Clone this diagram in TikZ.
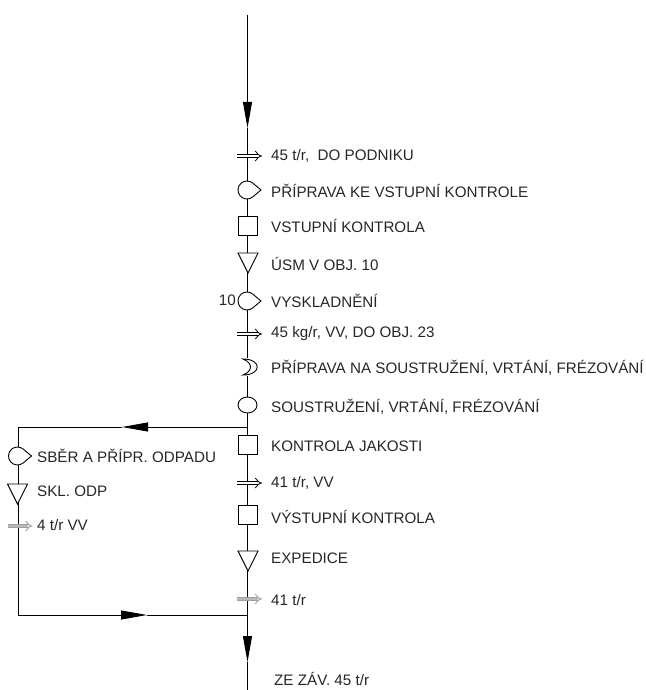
\documentclass[tikz,border=0pt]{standalone}
\usepackage{fontspec}
\setmainfont{Liberation Sans}
\usetikzlibrary{arrows.meta,calc}
\tikzset{
  ln/.style={line width=0.9pt, black},
  bigarrow/.style={ln, -{Triangle[length=26pt,width=9pt]}},
  lbl/.style={anchor=west, inner sep=0pt, font=\fontsize{15.2}{18}\selectfont, text=black!85},
  sym/.style={ln, fill=white},
  transp/.style={line width=0.8pt, double distance=2.8pt, -{Implies}},
  transpgrey/.style={line width=0.9pt, draw=gray!75, double=gray!55, double distance=2.8pt, -{Implies}},
  pics/teardrop/.style={code={
    \draw[sym] (14,0) -- (50:9) arc[start angle=50, end angle=310, radius=9] -- cycle;}},
  pics/crescent/.style={code={
    \fill[white] (-3,-9) rectangle (3,9);
    \draw[sym] (-5,-8) .. controls (14,-8) and (14,8) .. (-5,8)
      .. controls (5,4) and (5,-4) .. (-5,-8) -- cycle;}},
  pics/tri/.style={code={
    \draw[sym] (-10,-10) -- (10,-10) -- (0,10) -- cycle;}},
  pics/sq/.style={code={
    \draw[sym] (-9.5,-9.5) rectangle (9.5,9.5);}},
  pics/circ/.style={code={
    \draw[sym] (0,0) ellipse[x radius=9.5, y radius=8];}},
  pics/tr/.style={code={
    \draw[transp] (-10.5,0) -- (14.5,0);}},
  pics/trg/.style={code={
    \draw[transpgrey] (-10.5,0) -- (14.5,0);}},
}
\begin{document}
\begin{tikzpicture}[x=1pt,y=-1pt]
\useasboundingbox (0,0) rectangle (645,690);
% main coordinates
\coordinate (start) at (247.5,15);
\coordinate (tipA) at (247.5,128);
\coordinate (branch) at (247.5,427);
\coordinate (join) at (247.5,615);
\coordinate (tipB) at (247.5,662);
\coordinate (end) at (247.5,690);
\coordinate (lc1) at (18,427);
\coordinate (lc2) at (18,615);
\coordinate (tipL) at (122,427);
\coordinate (tipR) at (147,615);
% connectors
\draw[bigarrow] (start) -- (tipA);
\draw[ln] (tipA) -- (branch) -- (join);
\draw[bigarrow] (join) -- (tipB);
\draw[ln] (tipB) -- (end);
\draw[bigarrow] (branch) -- (tipL);
\draw[ln] (tipL) -- (lc1) -- (lc2);
\draw[bigarrow] (lc2) -- (tipR);
\draw[ln] (tipR) -- (join);
% symbols on main line
\pic at (247.5,156) {tr};
\pic at (247,190) {teardrop};
\pic at (247.5,226) {sq};
\pic at (248,263) {tri};
\pic at (247,301) {teardrop};
\pic at (247.5,334) {tr};
\pic at (248,367) {crescent};
\pic at (247.5,405) {circ};
\pic at (248,445) {sq};
\pic at (247.5,483) {tr};
\pic at (248,515) {sq};
\pic at (248,561) {tri};
\pic at (247.5,599) {trg};
% symbols on left branch
\pic at (17.5,456) {teardrop};
\pic at (17.5,494) {tri};
\pic at (18,526) {trg};
% labels
\node[lbl] (l1) at (271,156) {45 t/r,\ \ DO PODNIKU};
\node[lbl] (l2) at (271,191) {PŘÍPRAVA KE VSTUPNÍ KONTROLE};
\node[lbl] (l3) at (271,226) {VSTUPNÍ KONTROLA};
\node[lbl] (l4) at (271,264) {ÚSM V OBJ. 10};
\node[lbl, anchor=east] (l5a) at (236,300) {10};
\node[lbl] (l5) at (271,301) {VYSKLADNĚNÍ};
\node[lbl] (l6) at (271,334) {45 kg/r, VV, DO OBJ. 23};
\node[lbl] (l7) at (271,368) {PŘÍPRAVA NA SOUSTRUŽENÍ, VRTÁNÍ, FRÉZOVÁNÍ};
\node[lbl] (l8) at (271,407) {SOUSTRUŽENÍ, VRTÁNÍ, FRÉZOVÁNÍ};
\node[lbl] (l9) at (271,446) {KONTROLA JAKOSTI};
\node[lbl] (l10) at (271,483) {41 t/r, VV};
\node[lbl] (l11) at (271,517) {VÝSTUPNÍ KONTROLA};
\node[lbl] (l12) at (271,558) {EXPEDICE};
\node[lbl] (l13) at (271,600) {41 t/r};
\node[lbl, anchor=base west] (l14) at (274,685) {ZE ZÁV. 45 t/r};
\node[lbl] (r1) at (37,456) {SBĚR A PŘÍPR. ODPADU};
\node[lbl] (r2) at (37,491) {SKL. ODP};
\node[lbl] (r3) at (37,525) {4 t/r VV};
\end{tikzpicture}
\end{document}
